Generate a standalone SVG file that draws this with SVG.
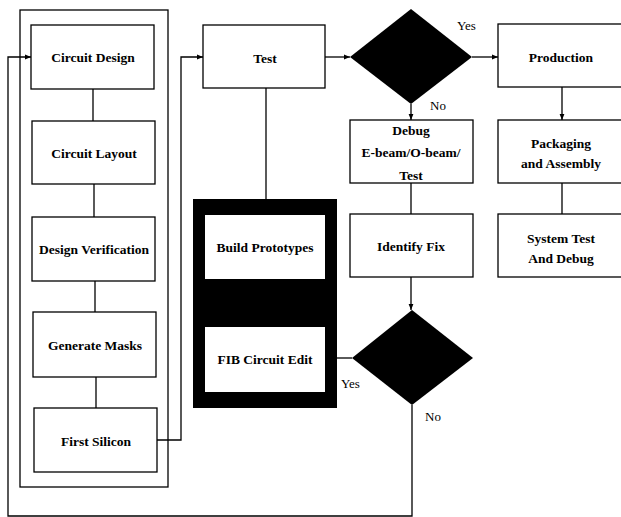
<svg xmlns="http://www.w3.org/2000/svg" width="621" height="517" viewBox="0 0 621 517" font-family="'Liberation Serif', 'Times New Roman', serif">
<defs>
<style>
.box{fill:#fff;stroke:#000;stroke-width:1.3}
.ln{fill:none;stroke:#000;stroke-width:1.3}
text{font-family:'Liberation Serif','Times New Roman',serif;font-size:13.5px;fill:#000}
.t{font-weight:bold;text-anchor:middle}
.lb{font-size:13px}
</style>
<marker id="ah" viewBox="0 0 10 10" refX="10" refY="5" markerWidth="5" markerHeight="5" orient="auto">
<path d="M0,1 L10,5 L0,9 z" fill="#000"/>
</marker>
</defs>
<rect width="621" height="517" fill="#fff"/>
<g id="outer-frame"><rect class="box" x="20" y="10" width="148" height="477" fill="none"/></g>
<g id="connectors">
<line class="ln" x1="93" y1="89" x2="93" y2="121"/>
<line class="ln" x1="94" y1="184" x2="94" y2="217"/>
<line class="ln" x1="95" y1="281" x2="95" y2="312"/>
<line class="ln" x1="96" y1="377" x2="96" y2="408"/>
<polyline class="ln" points="157,440 181,440 181,57 203,57" marker-end="url(#ah)"/>
<polyline class="ln" points="412,405 412,516 8,516 8,57 31,57" marker-end="url(#ah)"/>
<line class="ln" x1="325" y1="57" x2="350" y2="57" marker-end="url(#ah)"/>
<line class="ln" x1="472" y1="57" x2="498" y2="57" marker-end="url(#ah)"/>
<line class="ln" x1="562" y1="87" x2="562" y2="120" marker-end="url(#ah)"/>
<line class="ln" x1="562" y1="183" x2="562" y2="214"/>
<line class="ln" x1="411" y1="104" x2="411" y2="120" marker-end="url(#ah)"/>
<line class="ln" x1="411" y1="183" x2="411" y2="214"/>
<line class="ln" x1="411" y1="277" x2="411" y2="310" marker-end="url(#ah)"/>
<line class="ln" x1="266" y1="88" x2="266" y2="200"/>
<line class="ln" x1="337" y1="358" x2="352" y2="358"/>
</g>
<g id="circuit-design"><rect class="box" x="31" y="25" width="123" height="64"/><text class="t" x="93" y="62">Circuit Design</text></g>
<g id="circuit-layout"><rect class="box" x="32" y="121" width="123" height="63"/><text class="t" x="94" y="158">Circuit Layout</text></g>
<g id="design-verification"><rect class="box" x="32" y="217" width="123" height="64"/><text class="t" x="94" y="254">Design Verification</text></g>
<g id="generate-masks"><rect class="box" x="33" y="312" width="123" height="65"/><text class="t" x="95" y="350">Generate Masks</text></g>
<g id="first-silicon"><rect class="box" x="34" y="408" width="123" height="64"/><text class="t" x="96" y="446">First Silicon</text></g>
<g id="test"><rect class="box" x="203" y="25" width="122" height="63"/><text class="t" x="265" y="63">Test</text></g>
<g id="decision-1"><polygon points="411,9 472,57 411,104 350,57" fill="#000"/>
<text class="lb" x="457" y="30">Yes</text><text class="lb" x="430" y="110">No</text></g>
<g id="production"><rect class="box" x="498" y="24" width="130" height="63"/><text class="t" x="561" y="62">Production</text></g>
<g id="packaging"><rect class="box" x="498" y="120" width="130" height="63"/><text class="t" x="561" y="148">Packaging</text><text class="t" x="561" y="168">and Assembly</text></g>
<g id="system-test"><rect class="box" x="498" y="214" width="130" height="63"/><text class="t" x="561" y="243">System Test</text><text class="t" x="561" y="263">And Debug</text></g>
<g id="debug"><rect class="box" x="350" y="120" width="123" height="63"/><text class="t" x="411" y="135">Debug</text><text class="t" x="411" y="157">E-beam/O-beam/</text><text class="t" x="411" y="180">Test</text></g>
<g id="identify-fix"><rect class="box" x="350" y="214" width="123" height="63"/><text class="t" x="411" y="251">Identify Fix</text></g>
<g id="decision-2"><polygon points="412,310 473,358 412,405 352,358" fill="#000"/>
<text class="lb" x="341" y="388">Yes</text><text class="lb" x="425" y="421">No</text></g>
<g id="fib-frame"><rect x="193" y="199" width="144" height="209" fill="#000"/></g>
<g id="build-prototypes"><rect x="205" y="215" width="120" height="64" fill="#fff"/><text class="t" x="265" y="252">Build Prototypes</text></g>
<g id="fib-circuit-edit"><rect x="205" y="327" width="120" height="65" fill="#fff"/><text class="t" x="265" y="364">FIB Circuit Edit</text></g>
</svg>
